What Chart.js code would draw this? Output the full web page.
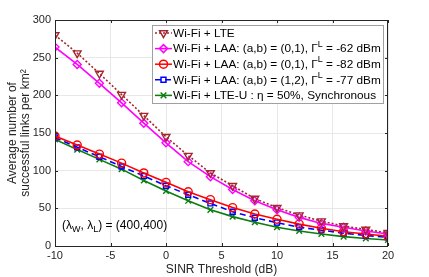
<!DOCTYPE html>
<html lang="en">
<head>
<meta charset="UTF-8">
<title>Successful links vs SINR threshold</title>
<style>
body { margin: 0; background: #fff; }
#wrap { width: 429px; height: 277px; }
</style>
</head>
<body>
<div id="wrap"><canvas id="chart" width="429" height="277"></canvas></div>
<script src="https://cdn.jsdelivr.net/npm/chart.js"></script>
<script>
const sinr = [-10, -8, -6, -4, -2, 0, 2, 4, 6, 8, 10, 12, 14, 16, 18, 20];
const wifiLte = [280, 256, 229, 201, 173, 145, 120, 97, 80, 63, 51, 41, 33, 26.5, 22, 17.5];
const laa62 = [264, 241, 216, 190, 163, 137, 112, 92, 75, 60, 48, 38, 30, 25, 20, 16];
const laa82 = [146, 134, 122, 110, 97, 84.5, 72, 61.5, 51, 42.5, 35.5, 29, 23.5, 19, 16, 13];
const laa77 = [144, 131, 118.5, 105.5, 93, 80, 68, 56.5, 45.5, 37.5, 31, 25, 21, 17, 14, 11.5];
const lteU = [141.5, 128, 115, 102, 87, 73, 60, 48, 39, 31.5, 25, 20, 16, 12.5, 10, 8];
const yTicks = [0, 50, 100, 150, 200, 250, 300];
const xTicks = [-10, -5, 0, 5, 10, 15, 20];

const font = 'Liberation Sans, Arial, Helvetica, sans-serif';

function pts(ys) { return sinr.map((x, i) => ({ x: x, y: ys[i] })); }

const series = [
  { data: wifiLte, color: '#a3262e', style: 'triangle', rot: 180, dash: [2, 2], r: 4.5,
    label: [['Wi-Fi + LTE']] },
  { data: laa62, color: '#ff00ff', style: 'rectRot', rot: 0, dash: [], r: 4,
    label: [['Wi-Fi + LAA: (a,b) = (0,1), Γ'], ['L', 'sup'], [' = -62 dBm']] },
  { data: laa82, color: '#ff0000', style: 'circle', rot: 0, dash: [], r: 4,
    label: [['Wi-Fi + LAA: (a,b) = (0,1), Γ'], ['L', 'sup'], [' = -82 dBm']] },
  { data: laa77, color: '#0000ff', style: 'rect', rot: 0, dash: [6, 4], r: 3.5,
    label: [['Wi-Fi + LAA: (a,b) = (1,2), Γ'], ['L', 'sup'], [' = -77 dBm']] },
  { data: lteU, color: '#0a7d0a', style: 'crossRot', rot: 0, dash: [], r: 4,
    label: [['Wi-Fi + LTE-U : η = 50%, Synchronous']] }
];

// draw text made of normal / superscript / subscript pieces
function richText(ctx, parts, x, y, size) {
  parts.forEach(p => {
    let s = size, dy = 0;
    if (p[1] === 'sup') { s = size * 0.75; dy = -size * 0.4; }
    if (p[1] === 'sub') { s = size * 0.75; dy = size * 0.3; }
    ctx.font = s + 'px ' + font;
    ctx.fillText(p[0], x, y + dy);
    x += ctx.measureText(p[0]).width;
  });
}

const extras = {
  id: 'extras',
  afterDraw(chart) {
    const ctx = chart.ctx;
    const a = chart.chartArea;
    const xs = chart.scales.x, ys = chart.scales.y;
    ctx.save();
    // frame and inward ticks on all four sides
    ctx.strokeStyle = '#262626';
    ctx.lineWidth = 1;
    ctx.strokeRect(a.left + 0.5, a.top + 0.5, a.right - a.left - 1, a.bottom - a.top);
    ctx.beginPath();
    xTicks.forEach(v => {
      const px = Math.round(xs.getPixelForValue(v)) + 0.5;
      ctx.moveTo(px, a.bottom); ctx.lineTo(px, a.bottom - 3);
      ctx.moveTo(px, a.top); ctx.lineTo(px, a.top + 3);
    });
    yTicks.forEach(v => {
      const py = Math.round(ys.getPixelForValue(v)) + 0.5;
      ctx.moveTo(a.left, py); ctx.lineTo(a.left + 3, py);
      ctx.moveTo(a.right, py); ctx.lineTo(a.right - 3, py);
    });
    ctx.stroke();

    // legend
    const lx = 152.5, ly = 25.5, lw = 231, lh = 78;
    ctx.fillStyle = '#fff';
    ctx.fillRect(lx, ly, lw, lh);
    ctx.strokeStyle = '#a0a0a0';
    ctx.strokeRect(lx, ly, lw, lh);
    ctx.textBaseline = 'middle';
    series.forEach((s, i) => {
      const cy = 33 + i * 15.6;
      ctx.strokeStyle = s.color;
      ctx.lineWidth = 1.5;
      ctx.setLineDash(s.dash);
      ctx.beginPath();
      ctx.moveTo(155, cy); ctx.lineTo(172, cy);
      ctx.stroke();
      ctx.setLineDash([]);
      ctx.fillStyle = 'rgba(255,255,255,0)';
      Chart.helpers.drawPoint(ctx, {
        pointStyle: s.style, rotation: s.rot, radius: s.r, borderWidth: 1.5
      }, 163.5, cy);
      ctx.fillStyle = '#000';
      richText(ctx, s.label, 173, cy + 0.5, 11.8);
    });

    // density annotation
    ctx.fillStyle = '#000';
    richText(ctx, [['(λ'], ['W', 'sub'], [', λ'], ['L', 'sub'], [') = (400,400)']], 62, 226, 12);
    ctx.restore();
  }
};

new Chart(document.getElementById('chart'), {
  type: 'line',
  data: {
    datasets: series.map(s => ({
      data: pts(s.data),
      borderColor: s.color,
      backgroundColor: 'transparent',
      borderWidth: 1.6,
      borderDash: s.dash,
      pointStyle: s.style,
      pointRotation: s.rot,
      pointRadius: s.r,
      pointBorderColor: s.color,
      pointBackgroundColor: 'transparent',
      pointBorderWidth: 1.4,
      tension: 0
    }))
  },
  options: {
    responsive: false,
    animation: false,
    events: [],
    layout: { padding: { top: 20, right: 41, left: 0, bottom: 0 } },
    plugins: { legend: { display: false }, tooltip: { enabled: false } },
    scales: {
      x: {
        type: 'linear', min: -10, max: 20,
        afterBuildTicks: sc => { sc.ticks = xTicks.map(v => ({ value: v })); },
        afterFit: sc => { sc.height = 31; },
        grid: { color: '#e8e8e8', drawTicks: false },
        border: { display: false },
        ticks: { color: '#262626', font: { family: font, size: 11 }, padding: 3 },
        title: { display: true, text: 'SINR Threshold (dB)', color: '#262626',
                 font: { family: font, size: 12 }, padding: { top: 0, bottom: 0 } }
      },
      y: {
        min: 0, max: 300,
        afterBuildTicks: sc => { sc.ticks = yTicks.map(v => ({ value: v })); },
        afterFit: sc => { sc.width = 55; },
        grid: { color: '#e8e8e8', drawTicks: false },
        border: { display: false },
        ticks: { color: '#262626', font: { family: font, size: 11 }, padding: 4 },
        title: { display: true, text: ['Average number of', 'successful links per km²'],
                 color: '#262626', font: { family: font, size: 12, lineHeight: 1.1 },
                 padding: { top: 6, bottom: 2 } }
      }
    }
  },
  plugins: [extras]
});
</script>
</body>
</html>
